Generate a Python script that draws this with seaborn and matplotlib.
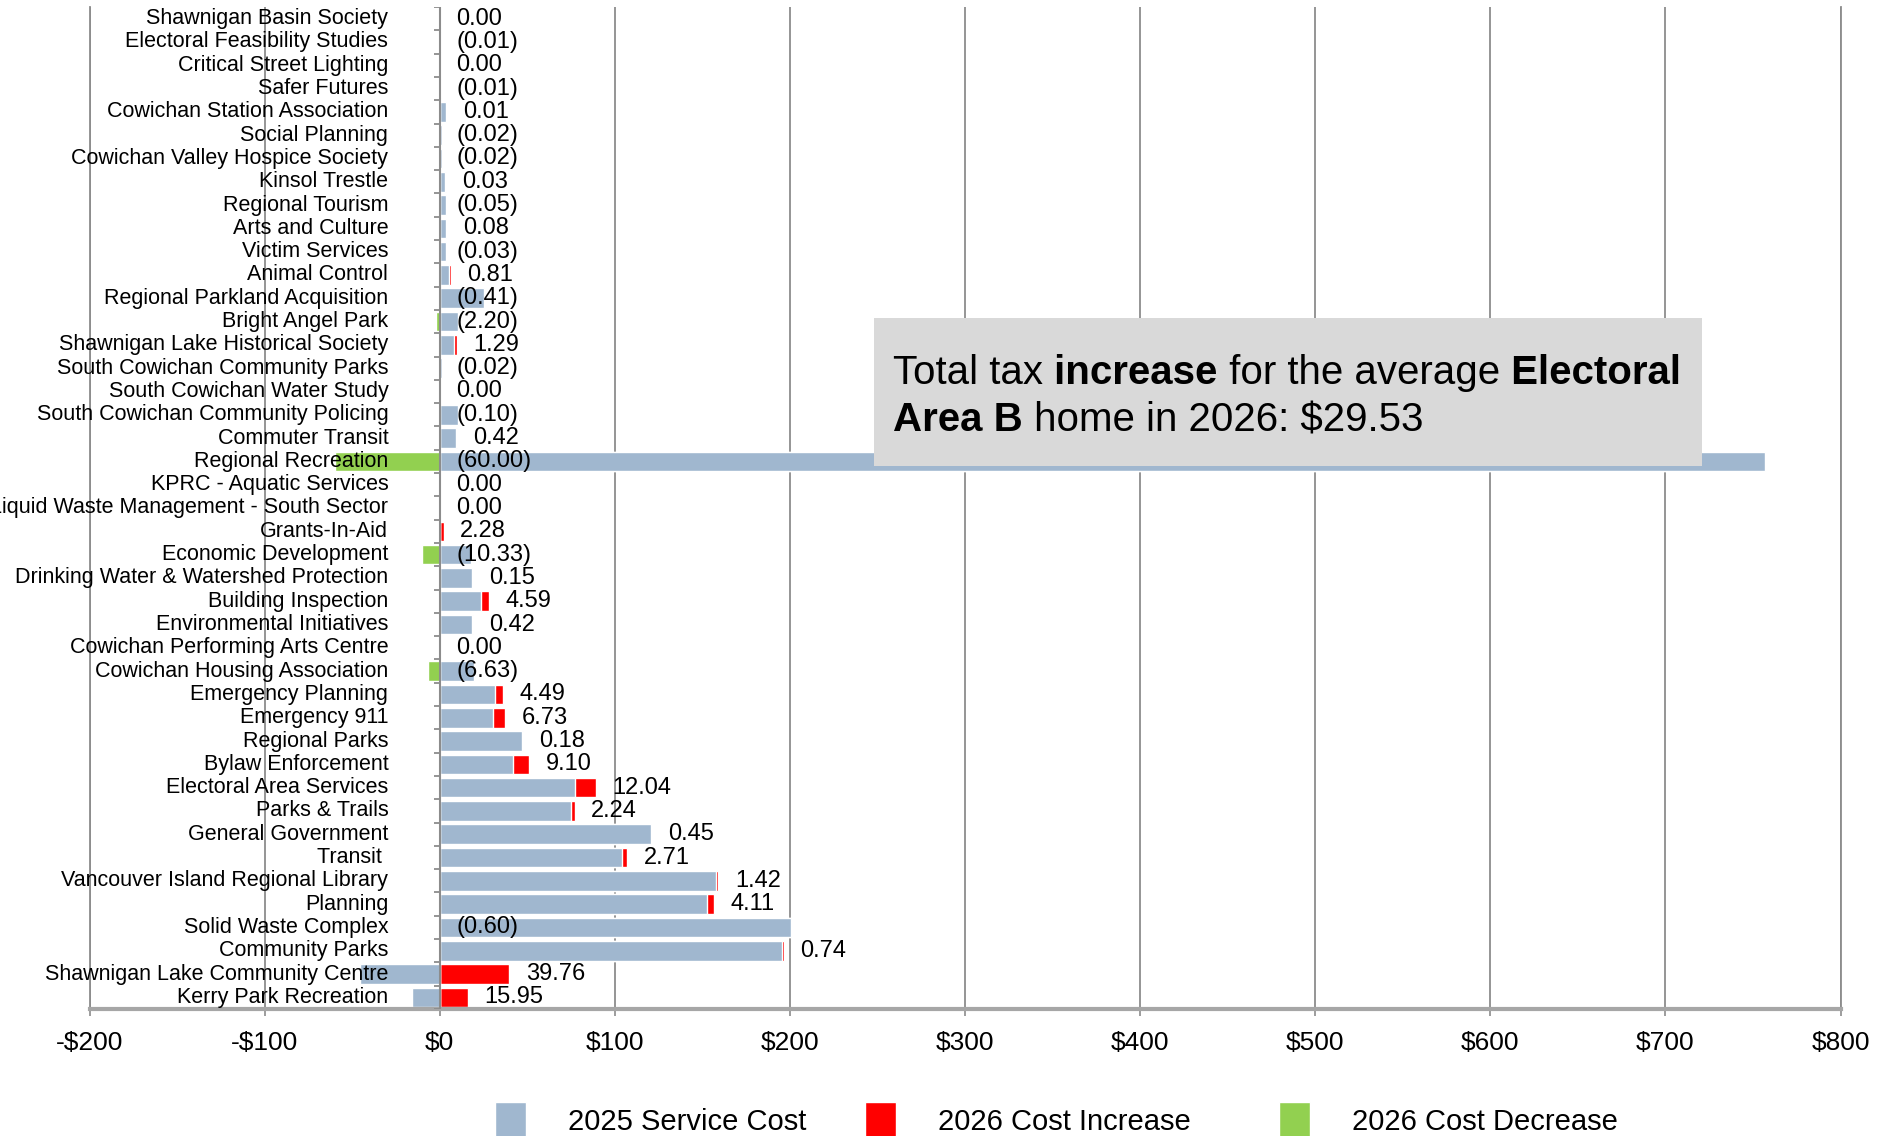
import matplotlib
matplotlib.use("Agg")
import matplotlib.pyplot as plt
from matplotlib.patches import Patch, Rectangle
import seaborn as sns
import numpy as np

# --- data ---
categories = [
    "Shawnigan Basin Society", "Electoral Feasibility Studies", "Critical Street Lighting",
    "Safer Futures", "Cowichan Station Association", "Social Planning",
    "Cowichan Valley Hospice Society", "Kinsol Trestle", "Regional Tourism",
    "Arts and Culture", "Victim Services", "Animal Control",
    "Regional Parkland Acquisition", "Bright Angel Park", "Shawnigan Lake Historical Society",
    "South Cowichan Community Parks", "South Cowichan Water Study",
    "South Cowichan Community Policing", "Commuter Transit", "Regional Recreation",
    "KPRC - Aquatic Services", "Liquid Waste Management - South Sector", "Grants-In-Aid",
    "Economic Development", "Drinking Water & Watershed Protection", "Building Inspection",
    "Environmental Initiatives", "Cowichan Performing Arts Centre",
    "Cowichan Housing Association", "Emergency Planning", "Emergency 911",
    "Regional Parks", "Bylaw Enforcement", "Electoral Area Services", "Parks & Trails",
    "General Government", "Transit ", "Vancouver Island Regional Library", "Planning",
    "Solid Waste Complex", "Community Parks", "Shawnigan Lake Community Centre",
    "Kerry Park Recreation",
]
cost_2025 = [
    0.5, 0.8, 0.4, 0.6, 3.8, 1.5, 1.5, 3.3, 3.6, 3.6, 3.8, 5.4,
    25.5, 10.5, 8.4, 1.3, 0.0, 10.7, 9.4, 757.0, 0.0, 0.0, 0.0,
    18.0, 18.4, 23.6, 18.4, 0.0, 19.7, 31.8, 30.5, 47.2, 42.0, 77.0, 74.8,
    120.4, 104.3, 157.7, 152.5, 200.4, 195.7, -45.6, -16.0,
]
change_2026 = [
    0.00, -0.01, 0.00, -0.01, 0.01, -0.02, -0.02, 0.03, -0.05, 0.08, -0.03, 0.81,
    -0.41, -2.20, 1.29, -0.02, 0.00, -0.10, 0.42, -60.00, 0.00, 0.00, 2.28,
    -10.33, 0.15, 4.59, 0.42, 0.00, -6.63, 4.49, 6.73, 0.18, 9.10, 12.04, 2.24,
    0.45, 2.71, 1.42, 4.11, -0.60, 0.74, 39.76, 15.95,
]
x_ticks = [-200, -100, 0, 100, 200, 300, 400, 500, 600, 700, 800]
legend_labels = ["2025 Service Cost", "2026 Cost Increase", "2026 Cost Decrease"]

BLUE = "#A0B7CF"
RED = "#FF0000"
GREEN = "#92D050"
GRID = "#8C8C8C"

sns.set_style("white")
plt.rcParams["font.family"] = ["Liberation Sans", "DejaVu Sans"]
plt.rcParams["text.color"] = "black"
plt.rcParams["xtick.labelcolor"] = "black"

W, H = 1877, 1136
fig = plt.figure(figsize=(W / 100, H / 100), dpi=100)
ax = fig.add_axes([89.5 / W, 1 - 1009 / H, 1751 / W, 1002 / H])

cost = np.array(cost_2025)
chg = np.array(change_2026)
increase = np.where(chg > 0, chg, 0)
decrease = np.where(chg < 0, chg, 0)

# stacked look: red drawn to the end of the positive stack, blue drawn over it
red_end = np.clip(cost, 0, None) + increase
sns.barplot(x=red_end, y=categories, order=categories, orient="h", color=RED,
            saturation=1, width=0.84, errorbar=None, ax=ax)
sns.barplot(x=cost, y=categories, order=categories, orient="h", color=BLUE,
            saturation=1, width=0.84, errorbar=None, ax=ax)
sns.barplot(x=decrease, y=categories, order=categories, orient="h", color=GREEN,
            saturation=1, width=0.84, errorbar=None, ax=ax)

ax.set_xlim(-200, 800)
ax.set_ylim(len(categories) - 0.5, -0.5)
ax.set_xlabel("")
ax.set_ylabel("")
ax.set_yticks([])
ax.set_xticks(x_ticks)
ax.set_xticklabels([f"-${abs(v)}" if v < 0 else f"${v}" for v in x_ticks], fontsize=19)
ax.tick_params(axis="x", direction="out", length=5, width=1.2, color=GRID, pad=11,
               bottom=True)
ax.set_axisbelow(True)
ax.xaxis.grid(True, color=GRID, linewidth=1.3)

ax.spines["top"].set_visible(False)
for side in ["left", "right"]:
    ax.spines[side].set_color(GRID)
    ax.spines[side].set_linewidth(1.3)
ax.spines["bottom"].set_color("#A6A6A6")
ax.spines["bottom"].set_linewidth(3)

# value axis at $0 with small category ticks
ax.axvline(0, color=GRID, linewidth=1.5, zorder=3)
ax.hlines(np.arange(len(categories) + 1) - 0.5, -3.4, 0, color=GRID, linewidth=1.3, zorder=3)

# category names sit next to the $0 axis
for i, name in enumerate(categories):
    ax.annotate(name, xy=(0, i), xytext=(-37, 0), textcoords="offset points",
                ha="right", va="center", fontsize=15.5, zorder=4)

# data labels
for i, (c, d) in enumerate(zip(cost, chg)):
    label = f"({abs(d):.2f})" if d < 0 else f"{d:.2f}"
    anchor = max(c, 0) + d if d > 0 else 0
    ax.annotate(label, xy=(anchor, i), xytext=(12, 0), textcoords="offset points",
                ha="left", va="center", fontsize=17, zorder=4)

# summary box
ax.add_patch(Rectangle((0.448, 0.542), 0.473, 0.1476, transform=ax.transAxes,
                       facecolor="#D9D9D9", edgecolor="none", zorder=5))
line1 = [("Total tax", "normal"), (" increase", "bold"), (" for the average", "normal"),
         (" Electoral", "bold")]
line2 = [("Area B", "bold"), (" home in 2026: $29.53", "normal")]
for y, parts in [(0.635, line1), (0.5875, line2)]:
    prev = ax.text(0.459, y, parts[0][0], transform=ax.transAxes, fontsize=29,
                   fontweight=parts[0][1], va="center", ha="left", zorder=6)
    for txt, wt in parts[1:]:
        prev = ax.annotate(txt, xy=(1, 0), xycoords=prev, fontsize=29, fontweight=wt,
                           va="bottom", ha="left", zorder=6)

# legend entries at the bottom (partly cut off like the source)
for label, colour, x0 in zip(legend_labels, [BLUE, RED, GREEN], [495, 865, 1279]):
    fig.legend([Patch(facecolor=colour)], [label],
               loc="upper left", bbox_to_anchor=(x0 / W, 1 - 1102 / H),
               frameon=False, fontsize=21, handlelength=1.05, handleheight=1.6,
               handletextpad=1.45, borderpad=0, borderaxespad=0)

fig.savefig("out.png", dpi=100, facecolor="white")
